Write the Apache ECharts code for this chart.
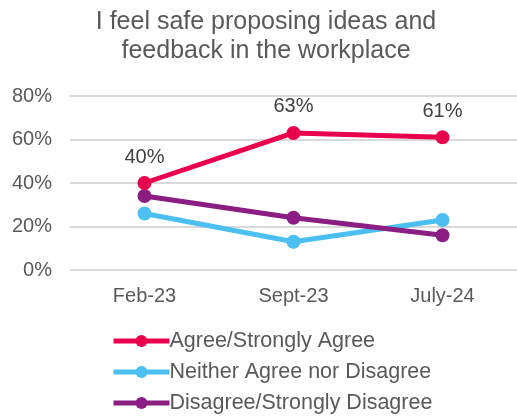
<!DOCTYPE html>
<html><head><meta charset="utf-8">
<script src="https://cdn.jsdelivr.net/npm/echarts@6/dist/echarts.min.js"></script>
<style>html,body{margin:0;padding:0;background:#fff}#c{width:517px;height:418px}</style>
</head><body><div id="c"></div>
<script>
const categories = ['Feb-23', 'Sept-23', 'July-24'];
const agree = [40, 63, 61];
const neither = [26, 13, 23];
const disagree = [34, 24, 16];
const yTicks = [0, 20, 40, 60, 80];

const font = 'Liberation Sans, Arial, sans-serif';
const chart = echarts.init(document.getElementById('c'));
function s(name, data, color, labels) {
  return {
    name, type: 'line', data, color,
    lineStyle: { width: 5, color },
    itemStyle: { color },
    symbol: 'circle', symbolSize: 14,
    z: name === 'Agree/Strongly Agree' ? 5 : 3,
    label: labels ? { show: true, position: 'top', distance: 9, formatter: '{c}%', color: '#404040', fontSize: 20, fontFamily: font } : { show: false },
    emphasis: { disabled: true }
  };
}
chart.setOption({
  animation: false,
  title: {
    text: 'I feel safe proposing ideas and\nfeedback in the workplace',
    left: 261, top: 3, textAlign: 'center',
    textStyle: { color: '#595959', fontSize: 25, fontWeight: 'normal', fontFamily: font, lineHeight: 29 }
  },
  grid: { left: 70, right: -3, top: 96, bottom: 148 },
  xAxis: {
    type: 'category', data: categories,
    axisLine: { show: false }, axisTick: { show: false },
    axisLabel: { color: '#595959', fontSize: 20, fontFamily: font, margin: 16 }
  },
  yAxis: {
    type: 'value', min: 0, max: 80, interval: 20,
    axisLabel: { color: '#595959', fontSize: 20, fontFamily: font, margin: 18, formatter: v => yTicks.includes(v) ? v + '%' : '' },
    splitLine: { lineStyle: { color: '#d9d9d9', width: 2 } }
  },
  legend: {
    orient: 'vertical', left: 111, top: 330, height: 200, padding: 0,
    itemWidth: 56, itemHeight: 15, itemGap: 9,
    lineStyle: { width: 5 },
    textStyle: { color: '#595959', fontSize: 21.5, fontFamily: font, padding: [0,0,0,-5] },
    data: ['Agree/Strongly Agree', 'Neither Agree nor Disagree', 'Disagree/Strongly Disagree']
  },
  series: [
    s('Neither Agree nor Disagree', neither, '#4BBFEF', false),
    s('Disagree/Strongly Disagree', disagree, '#8B1E82', false),
    s('Agree/Strongly Agree', agree, '#E8004C', true)
  ]
});
</script></body></html>
